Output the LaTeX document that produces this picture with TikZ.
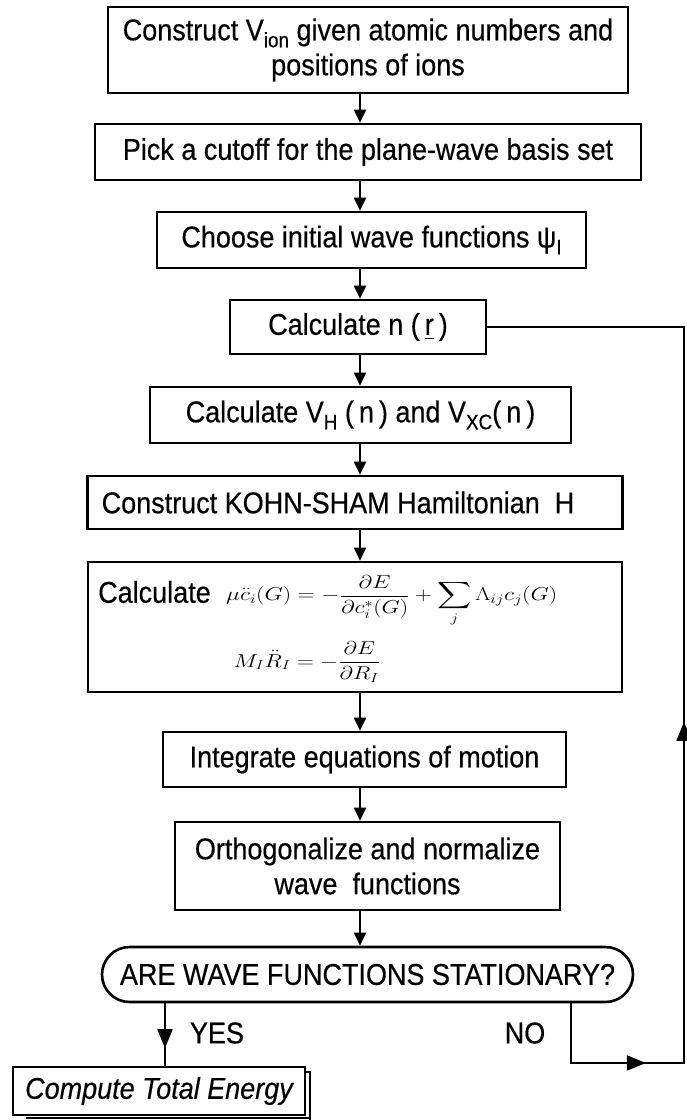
\documentclass[tikz,border=0pt]{standalone}
\usepackage{amsmath}
\usepackage{graphicx}
\usepackage{fontspec}
\setmainfont{Liberation Sans}[FakeStretch=0.9,FakeBold=0.4]
\usetikzlibrary{arrows.meta,decorations.markings}
\newcommand\boxfont{\fontsize{30}{35}\selectfont}
\newcommand\mathfnt{\fontsize{20.74}{25}\selectfont}
\newcommand\lowsub[1]{\raisebox{-7pt}{\fontsize{21}{21}\selectfont #1}}
\tikzset{
  box/.style={draw, line width=2.6pt, rectangle, inner sep=0pt, align=center, font=\boxfont},
  lbl/.style={inner sep=0pt, font=\boxfont},
  arr/.style={line width=1.8pt, -{Triangle[length=13pt,width=12pt]}},
  flow/.style={line width=1.8pt},
  midtip/.style={postaction={decorate}, decoration={markings,
      mark=at position #1 with {\arrow{Triangle[length=19pt,width=15pt]}}}},
  twotips/.style={postaction={decorate}, decoration={markings,
      mark=at position 0.1218 with {\arrow{Triangle[length=19pt,width=15pt]}},
      mark=at position 0.4648 with {\arrow{Triangle[length=19pt,width=15pt]}}}}
}
\begin{document}
\begin{tikzpicture}[x=1pt,y=-1pt]
\useasboundingbox (0,0) rectangle (686,1120);
\coordinate (ax) at (360,0);
\node[box, minimum width=520pt, minimum height=86pt] (b1) at (368,50)
  {Construct V\lowsub{ion} given atomic numbers and\\positions of ions};
\node[box, minimum width=546pt, minimum height=56pt] (b2) at (368,152)
  {Pick a cutoff for the plane-wave basis set};
\node[box, minimum width=429pt, minimum height=56pt] (b3) at (371.5,240)
  {Choose initial wave functions ψ\lowsub{I}};
\node[box, minimum width=256pt, minimum height=54pt] (b4) at (358,327)
  {Calculate n (\,\underline{r}\,)};
\node[box, minimum width=421pt, minimum height=56pt] (b5) at (360.5,415)
  {Calculate V\lowsub{H} (\,n\,) and V\lowsub{XC}(\,n\,)};
\node[box, minimum width=535pt, minimum height=53pt] (b6) at (355,502.5)
  {Construct KOHN-SHAM Hamiltonian\ \ H\hspace*{34pt}};
\node[box, minimum width=534pt, minimum height=130pt] (b7) at (355,627) {};
\node[lbl, anchor=west] (calc) at (98,592) {Calculate};
\node[inner sep=0pt, anchor=west, font=\mathfnt] (e1) at (226,601)
  {\scalebox{1.14}[0.9]{$\displaystyle \mu\ddot c_i(G) = -\frac{\partial E}{\partial c_i^*(G)} + \sum_j \Lambda_{ij} c_j(G)$}};
\node[inner sep=0pt, font=\mathfnt] (e2) at (307,662)
  {\scalebox{1.12}[0.9]{$\displaystyle M_I\ddot R_I = -\frac{\partial E}{\partial R_I}$}};
\node[box, minimum width=403pt, minimum height=55pt] (b8) at (364.5,759.5)
  {Integrate equations of motion};
\node[box, minimum width=385pt, minimum height=88pt] (b9) at (367.5,866)
  {Orthogonalize and normalize\\wave\ \ functions};
\node[box, rounded corners=27.5pt, minimum width=531pt, minimum height=55pt] (b10) at (367.5,974.5)
  {ARE WAVE FUNCTIONS STATIONARY?};
% shadow of final box
\draw[line width=1.2pt] (165,1072) -- (310,1072) -- (310,1120);
\draw[line width=1.2pt] (26,1118) -- (310,1118);
\node[box, fill=white, minimum width=292pt, minimum height=48pt, font=\boxfont\itshape] (b11) at (159,1091)
  {Compute Total Energy};
\node[lbl] (yes) at (217,1033) {YES};
\node[lbl] (no) at (525,1033) {NO};
% main flow
\draw[arr] (b1.south -| ax) -- (b2.north -| ax);
\draw[arr] (b2.south -| ax) -- (b3.north -| ax);
\draw[arr] (b3.south -| ax) -- (b4.north -| ax);
\draw[arr] (b4.south -| ax) -- (b5.north -| ax);
\draw[arr] (b5.south -| ax) -- (b6.north -| ax);
\draw[arr] (b6.south -| ax) -- (b7.north -| ax);
\draw[arr] (b7.south -| ax) -- (b8.north -| ax);
\draw[arr] (b8.south -| ax) -- (b9.north -| ax);
\draw[arr] (b9.south -| ax) -- (b10.north -| ax);
% yes
\coordinate (yx) at (165,0);
\draw[flow, midtip=0.72] (b10.south -| yx) -- (b11.north -| yx);
% no loop
\coordinate (nx) at (571,0);
\coordinate (c1) at (571,1063);
\coordinate (c2) at (684,1063);
\coordinate (c3) at (684,327);
\draw[flow, twotips] (b10.south -| nx) -- (c1) -- (c2) -- (c3) -- (b4.east);
\end{tikzpicture}
\end{document}
